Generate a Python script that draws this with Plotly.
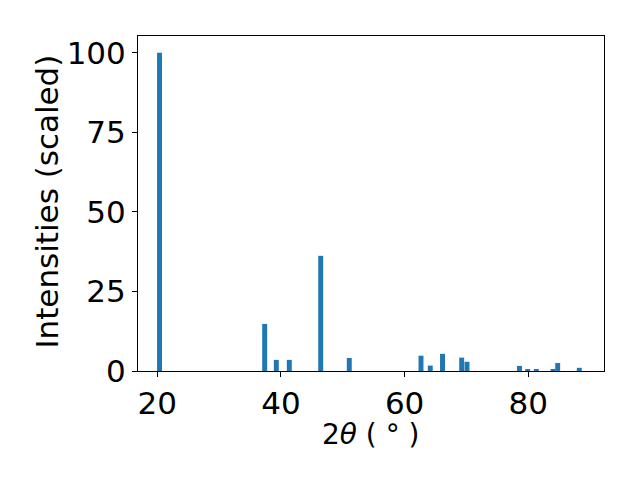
import plotly.graph_objects as go

two_theta = [20.36, 37.37, 39.25, 41.35, 46.43, 51.05, 62.65, 64.15, 66.13, 69.23,
             70.09, 78.58, 79.91, 81.30, 84.0, 84.76, 88.25]
intensity = [100, 14.8, 3.5, 3.5, 36.2, 4.1, 4.8, 1.7, 5.4, 4.2,
             2.9, 1.6, 0.6, 0.6, 0.6, 2.5, 1.0]
x_ticks = [20, 40, 60, 80]
y_ticks = [0, 25, 50, 75, 100]
x_label = "2<i>θ</i> ( ° )"
y_label = "Intensities (scaled)"

fig = go.Figure(go.Bar(x=two_theta, y=intensity, width=0.8,
                       marker=dict(color="#1f77b4", line=dict(width=0))))

font = dict(family="DejaVu Sans", size=31, color="black")
xfont = dict(family="DejaVu Sans", size=28, color="black")
fig.update_layout(
    width=640, height=480,
    margin=dict(l=130, r=44, t=28, b=117),
    paper_bgcolor="white", plot_bgcolor="white",
    showlegend=False,
    font=font,
    xaxis=dict(range=[16.88, 92.25], tickvals=x_ticks, ticks="outside", ticklen=5,
               tickwidth=1, tickcolor="black", showline=True, linecolor="black",
               linewidth=1, mirror=True, showgrid=False, zeroline=False,
               tickfont=font),
    yaxis=dict(range=[0, 105.3], tickvals=y_ticks, ticks="outside", ticklen=5,
               tickwidth=1, tickcolor="black", showline=True, linecolor="black",
               linewidth=1, mirror=True, showgrid=False, zeroline=False,
               tickfont=font),
    annotations=[
        dict(text=x_label, xref="paper", yref="paper", x=0.5, y=-0.19,
             xanchor="center", yanchor="middle", showarrow=False, font=xfont),
        dict(text=y_label, xref="paper", yref="paper", x=-0.195, y=0.506,
             xanchor="center", yanchor="middle", textangle=-90, showarrow=False,
             font=font),
    ],
)
fig.write_html("out.html")
